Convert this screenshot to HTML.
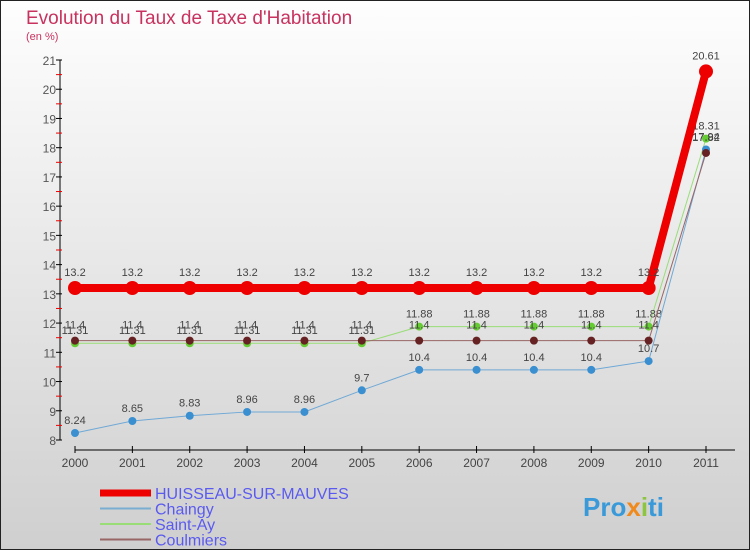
<!DOCTYPE html>
<html><head><meta charset="utf-8"><style>
body{margin:0}
svg{display:block;font-family:"Liberation Sans",sans-serif}
</style></head><body>
<svg id="c" width="750" height="550" viewBox="0 0 750 550">
<defs><linearGradient id="bg" x1="0" y1="0" x2="0" y2="1"><stop offset="0" stop-color="#fefefe"/><stop offset="1" stop-color="#cfcfcf"/></linearGradient></defs>
<rect x="0.5" y="0.5" width="749" height="549" fill="url(#bg)" stroke="#222"/>
<text x="26" y="24" font-size="19" fill="#c8325f">Evolution du Taux de Taxe d'Habitation</text>
<text x="26" y="40" font-size="11" fill="#c8325f">(en %)</text>
<g id="axes"></g><g id="series"></g><g id="legend"></g>
<text x="583" y="516" font-size="26" font-weight="bold" fill="#3a9ad9">Pro<tspan fill="#f08a1c">x</tspan><tspan fill="#8cc63f">i</tspan><tspan fill="#3a9ad9">ti</tspan></text>
</svg>
<script>
const years=[2000,2001,2002,2003,2004,2005,2006,2007,2008,2009,2010,2011];
const yTicks=[8,9,10,11,12,13,14,15,16,17,18,19,20,21];
const huisseau=[13.2,13.2,13.2,13.2,13.2,13.2,13.2,13.2,13.2,13.2,13.2,20.61];
const chainay=[8.24,8.65,8.83,8.96,8.96,9.7,10.4,10.4,10.4,10.4,10.7,17.94];
const saintAy=[11.31,11.31,11.31,11.31,11.31,11.31,11.88,11.88,11.88,11.88,11.88,18.31];
const coulmiers=[11.4,11.4,11.4,11.4,11.4,11.4,11.4,11.4,11.4,11.4,11.4,17.82];
const ns="http://www.w3.org/2000/svg";
const X=i=>75+i*(706-75)/11;
const Y=v=>440-(v-8)*(440-60)/13;
function mk(t,a,p){const e=document.createElementNS(ns,t);for(const k in a)e.setAttribute(k,a[k]);p.appendChild(e);return e;}
const ax=document.getElementById('axes');
let l=mk('line',{x1:60,y1:60,x2:60,y2:440,stroke:'#000'},ax);


yTicks.forEach(v=>{
 mk('line',{x1:56,y1:Y(v),x2:62,y2:Y(v),stroke:'#000'},ax);
 if(v<21)mk('line',{x1:56,y1:Y(v+0.5),x2:62,y2:Y(v+0.5),stroke:'#e00'},ax);
 const t=mk('text',{x:56,y:Y(v)+5,'font-size':12,'text-anchor':'end',fill:'#555'},ax);t.textContent=v;
 
 
});
l=mk('line',{x1:75,y1:450,x2:735,y2:450,stroke:'#000'},ax);


years.forEach((y,i)=>{
 mk('line',{x1:X(i),y1:446,x2:X(i),y2:453,stroke:'#000'},ax);
 const t=mk('text',{x:X(i),y:467,'font-size':12,'text-anchor':'middle',fill:'#444'},ax);t.textContent=y;
 
 
});
const sg=document.getElementById('series');
function series(d,color,dot,w,r,name,dy){
 const g=mk('g',{},sg);
 
 
 mk('polyline',{points:d.map((v,i)=>X(i)+','+Y(v)).join(' '),fill:'none',stroke:color,'stroke-width':w},g);
 d.forEach((v,i)=>{
  const c=mk('circle',{cx:X(i),cy:Y(v),r:r,fill:dot},g);
  
  
  const t=mk('text',{x:X(i),y:Y(v)-dy,'font-size':11,'text-anchor':'middle',fill:'#444'},g);t.textContent=v;
 });
}
series(saintAy,'#99dd77','#66cc33',1,4,'series-saint-ay',9);
series(chainay,'#6fa8d6','#3a8fd0',1,4,'series-chainay',9);
series(coulmiers,'#996666','#662222',1,4,'series-coulmiers',12);
series(huisseau,'#ee0000','#ee0000',8,7,'series-huisseau',12);
const lg=document.getElementById('legend');
const items=[['HUISSEAU-SUR-MAUVES','#ee0000',7],['Chaingy','#7aaed0',2],['Saint-Ay','#99dd77',2],['Coulmiers','#996666',2]];
items.forEach((it,i)=>{
 const y=493+i*15.5;
 const g=mk('g',{},lg);
 
 
 mk('rect',{x:100,y:y-it[2]/2,width:51,height:it[2],fill:it[1]},g);
 const t=mk('text',{x:155,y:y+6,'font-size':16,fill:'#5a5af0'},g);t.textContent=it[0];
});
</script>
</body></html>
